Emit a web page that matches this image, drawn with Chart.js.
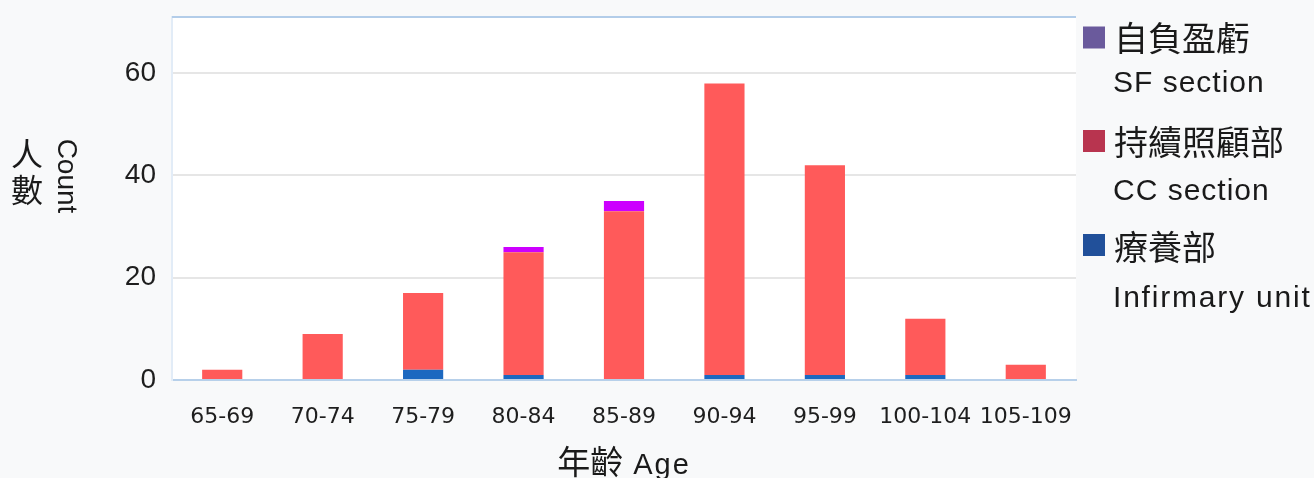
<!DOCTYPE html>
<html>
<head>
<meta charset="utf-8">
<script src="https://cdn.jsdelivr.net/npm/chart.js@4.4.1/dist/chart.umd.min.js"></script>
<style>
  html, body { margin: 0; padding: 0; background: #f8f9fa; }
  #wrap { width: 1314px; height: 478px; }
</style>
</head>
<body>
<div id="wrap"><canvas id="c" width="1314" height="478"></canvas></div>
<script>
// Residents by age group, stacked by unit
const ageGroups   = ['65-69', '70-74', '75-79', '80-84', '85-89', '90-94', '95-99', '100-104', '105-109'];
const infirmary   = [0, 0, 2, 1, 0, 1, 1, 1, 0];
const ccSection   = [2, 9, 15, 24, 33, 57, 41, 11, 3];
const sfSection   = [0, 0, 0, 1, 2, 0, 0, 0, 0];
const yTickValues = [0, 20, 40, 60];
const yMax = 71;

// Legend entries, top to bottom
const legendItems = [
  { zh: '自負盈虧',   en: 'SF section',     swatch: '#6a5a9c' },
  { zh: '持續照顧部', en: 'CC section',     swatch: '#b8344f' },
  { zh: '療養部',     en: 'Infirmary unit', swatch: '#21509a' }
];

const CJK = '"Noto Sans CJK TC", "Noto Sans CJK SC", sans-serif';
const LATIN = '"Liberation Sans", Arial, sans-serif';

// White plot background plus a pale top edge
const plotFrame = {
  id: 'plotFrame',
  beforeDraw(chart) {
    const { ctx, chartArea: a } = chart;
    ctx.save();
    ctx.fillStyle = '#ffffff';
    ctx.fillRect(a.left, a.top, a.right - a.left, a.bottom - a.top);
    ctx.restore();
  },
  afterDraw(chart) {
    const { ctx, chartArea: a } = chart;
    ctx.save();
    ctx.strokeStyle = '#b3cde9';
    ctx.lineWidth = 2;
    ctx.beginPath();
    ctx.moveTo(a.left, a.top);
    ctx.lineTo(a.right, a.top);
    ctx.stroke();
    ctx.restore();
  }
};

// Axis titles: stacked CJK + clockwise "Count", and the bilingual x title
const axisTitles = {
  id: 'axisTitles',
  afterDraw(chart) {
    const { ctx, chartArea: a } = chart;
    ctx.save();
    ctx.fillStyle = '#1a1a1a';
    ctx.textAlign = 'center';
    ctx.textBaseline = 'middle';
    ctx.font = '32px ' + CJK;
    ctx.fillText('人', 27, 154);
    ctx.fillText('數', 27, 190);

    ctx.save();
    ctx.translate(66, 176);
    ctx.rotate(Math.PI / 2);
    ctx.font = '28px ' + LATIN;
    ctx.fillText('Count', 0, 0);
    ctx.restore();

    // x title
    ctx.textAlign = 'left';
    ctx.textBaseline = 'alphabetic';
    const zh = '年齡', en = 'Age';
    ctx.font = '33px ' + CJK;
    const zw = ctx.measureText(zh).width;
    ctx.font = '29px ' + LATIN;
    ctx.letterSpacing = '2px';
    const ew = ctx.measureText(en).width;
    const gap = 10;
    const x = (a.left + a.right) / 2 - (zw + gap + ew) / 2;
    const base = 474;
    ctx.letterSpacing = '0px';
    ctx.font = '33px ' + CJK;
    ctx.fillText(zh, x, base);
    ctx.font = '29px ' + LATIN;
    ctx.letterSpacing = '2px';
    ctx.fillText(en, x + zw + gap, base);
    ctx.restore();
  }
};

// Two-line legend on the right
const sideLegend = {
  id: 'sideLegend',
  afterDraw(chart) {
    const { ctx } = chart;
    const rows = [
      { sq: 37.5, zh: 38, en: 84, ls: 1 },
      { sq: 141,  zh: 142, en: 192, ls: 1 },
      { sq: 245,  zh: 247, en: 299, ls: 1.8 }
    ];
    ctx.save();
    ctx.textBaseline = 'middle';
    ctx.textAlign = 'left';
    legendItems.forEach((item, i) => {
      const r = rows[i];
      ctx.fillStyle = item.swatch;
      ctx.fillRect(1083, r.sq - 11, 22, 22);
      ctx.fillStyle = '#1a1a1a';
      ctx.letterSpacing = '0px';
      ctx.font = '34px ' + CJK;
      ctx.fillText(item.zh, 1114, r.zh);
      ctx.font = '30px ' + LATIN;
      ctx.letterSpacing = r.ls + 'px';
      ctx.fillText(item.en, 1113, r.en);
    });
    ctx.restore();
  }
};

new Chart(document.getElementById('c'), {
  type: 'bar',
  data: {
    labels: ageGroups,
    datasets: [
      { label: 'Infirmary unit', data: infirmary, backgroundColor: '#1c68c0' },
      { label: 'CC section',     data: ccSection, backgroundColor: '#ff5a5a' },
      { label: 'SF section',     data: sfSection, backgroundColor: '#cc00ff' }
    ]
  },
  options: {
    responsive: false,
    devicePixelRatio: 1,
    animation: false,
    barPercentage: 0.4,
    categoryPercentage: 1.0,
    layout: { padding: { left: 112, right: 238, top: 17, bottom: 38 } },
    plugins: { legend: { display: false }, tooltip: { enabled: false } },
    scales: {
      x: {
        stacked: true,
        grid: { display: false, drawTicks: false },
        border: { display: true, color: '#b7d0ea', width: 2 },
        ticks: {
          padding: 24,
          color: '#1e1e1e',
          font: { family: '"DejaVu Sans", sans-serif', size: 22 }
        },
        afterFit(s) { s.height = 60; s.paddingLeft = 0; s.paddingRight = 0; }
      },
      y: {
        stacked: true,
        min: 0,
        max: yMax,
        grid: { color: '#e6e6e6', lineWidth: 2, drawTicks: false },
        border: { display: true, color: '#e2ecf7', width: 2 },
        ticks: {
          padding: 16,
          color: '#1e1e1e',
          font: { family: LATIN, size: 28 }
        },
        afterBuildTicks(s) { s.ticks = yTickValues.map(v => ({ value: v })); },
        afterFit(s) { s.width = 60; s.paddingTop = 0; s.paddingBottom = 0; }
      }
    }
  },
  plugins: [plotFrame, axisTitles, sideLegend]
});
</script>
</body>
</html>
